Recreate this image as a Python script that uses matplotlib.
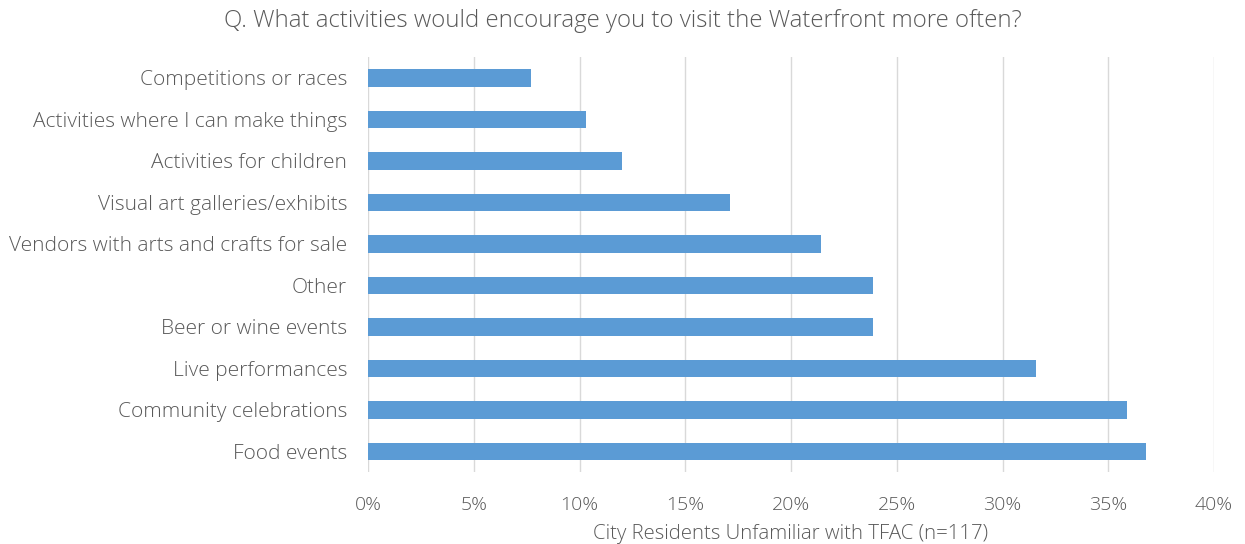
import matplotlib.pyplot as plt
from matplotlib.ticker import PercentFormatter

plt.rcParams['font.family'] = ['Open Sans', 'DejaVu Sans']
plt.rcParams['font.weight'] = 'light'
plt.rcParams['axes.labelweight'] = 'light'

# categories from top to bottom
activities = ['Competitions or races', 'Activities where I can make things',
              'Activities for children', 'Visual art galleries/exhibits',
              'Vendors with arts and crafts for sale', 'Other',
              'Beer or wine events', 'Live performances',
              'Community celebrations', 'Food events']
shares = [7.7, 10.3, 12.0, 17.1, 21.4, 23.9, 23.9, 31.6, 35.9, 36.8]
ticks = [0, 5, 10, 15, 20, 25, 30, 35, 40]

fig = plt.figure(figsize=(12.45, 5.44), dpi=100)
ax = fig.add_axes([0.2956, 0.132, 0.6795, 0.763])

pos = range(len(activities))
ax.barh(pos, shares, height=0.42, color='#5B9BD5', zorder=3)
ax.set_ylim(len(activities) - 0.5, -0.5)
ax.set_yticks(list(pos))
ax.set_yticklabels(activities, fontsize=15)

ax.set_xlim(0, 40)
ax.set_xticks(ticks)
ax.xaxis.set_major_formatter(PercentFormatter(decimals=0))
ax.grid(axis='x', color='#D9D9D9', linewidth=1, zorder=0)

for s in ax.spines.values():
    s.set_visible(False)
ax.tick_params(length=0, colors='#595959')
ax.tick_params(axis='y', pad=15)
ax.tick_params(axis='x', pad=17, labelsize=14)

ax.set_xlabel('City Residents Unfamiliar with TFAC (n=117)', color='#595959',
              fontsize=14.7, labelpad=7)
fig.text(0.5, 0.962, 'Q. What activities would encourage you to visit the Waterfront more often?',
         ha='center', va='center', color='#595959', fontsize=17.3)

fig.savefig('out.png', dpi=100)
